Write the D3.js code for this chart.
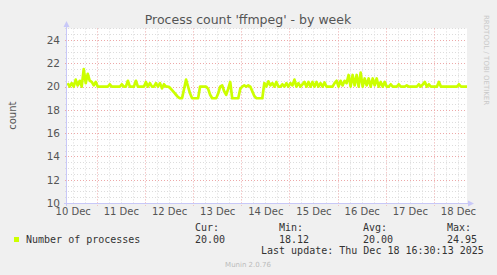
<!DOCTYPE html>
<html>
<head>
<meta charset="utf-8">
<script src="https://cdn.jsdelivr.net/npm/d3@7/dist/d3.min.js"></script>
<style>
  html, body { margin: 0; padding: 0; background: #F0F0F0; }
  svg { display: block; }
</style>
</head>
<body>
<script>
// ---------- data ----------
const title = "Process count 'ffmpeg' - by week";
const yLabel = "count";
const seriesName = "Number of processes";
// hourly samples, first at 10 Dec 09:30 UTC, last at 18 Dec 16:30 UTC
const sampleStart = "2025-12-10T09:30:00Z";
const values = [
  20.3, 20.0, 20.3, 20.0, 20.6, 20.1, 20.5, 20.0, 21.5, 20.3,
  21.1, 20.5, 20.4, 20.1, 20.4, 20.0, 20.0, 20.0, 20.0, 20.0,
  20.0, 20.2, 20.0, 20.0, 20.0, 20.0, 20.0, 20.2, 20.0, 20.0,
  20.5, 20.0, 20.0, 20.0, 20.5, 20.0, 20.0, 20.0, 20.0, 20.4,
  20.0, 20.3, 20.0, 20.0, 20.3, 20.0, 20.3, 19.85, 20.2, 20.0,
  20.0, 19.9, 19.7, 19.5, 19.3, 19.1, 19.0, 19.0, 19.8, 20.6,
  20.0, 19.4, 19.0, 19.0, 19.0, 19.0, 20.0, 20.0, 20.0, 20.0,
  19.8, 19.3, 19.0, 19.0, 19.0, 19.4, 20.0, 20.1, 19.6, 19.3,
  19.8, 20.4, 19.0, 19.0, 19.0, 19.0, 19.8, 20.0, 20.1, 20.0,
  20.1, 20.0, 19.6, 19.2, 19.0, 19.0, 19.0, 19.0, 20.3, 20.0,
  20.45, 20.1, 20.3, 20.0, 20.4, 20.0, 20.0, 20.2, 20.0, 20.3,
  20.0, 20.3, 20.1, 20.6, 20.0, 20.3, 20.0, 20.2, 20.4, 20.0,
  20.4, 20.0, 20.4, 20.0, 20.4, 20.0, 20.3, 20.0, 20.35, 20.0,
  20.0, 20.0, 20.0, 20.3, 20.5, 20.0, 20.5, 20.1, 20.5, 20.3,
  21.0, 20.0, 21.0, 20.1, 21.0, 20.0, 21.2, 20.0, 20.7, 20.1,
  20.7, 20.0, 20.7, 20.1, 20.7, 20.0, 20.4, 20.0, 20.4, 20.0,
  20.0, 20.2, 20.0, 20.0, 20.0, 20.2, 20.0, 20.0, 20.0, 20.1,
  20.0, 20.0, 20.0, 20.0, 20.0, 20.2, 20.0, 20.2, 20.4, 20.0,
  20.2, 20.0, 20.0, 20.0, 20.0, 20.4, 20.0, 20.0, 20.0, 20.0,
  20.0, 20.0, 20.0, 20.0, 20.0, 20.2, 20.0, 20.0, 20.0, 20.0
];
const yTicks = [10, 12, 14, 16, 18, 20, 22, 24];
const xTickLabels = ["10 Dec", "11 Dec", "12 Dec", "13 Dec", "14 Dec", "15 Dec", "16 Dec", "17 Dec", "18 Dec"];
const xTickDates = ["2025-12-10T12:00:00Z", "2025-12-11T12:00:00Z", "2025-12-12T12:00:00Z", "2025-12-13T12:00:00Z",
                    "2025-12-14T12:00:00Z", "2025-12-15T12:00:00Z", "2025-12-16T12:00:00Z", "2025-12-17T12:00:00Z",
                    "2025-12-18T12:00:00Z"];
const statLabels = ["Cur:", "Min:", "Avg:", "Max:"];
const statValues = ["20.00", "18.12", "20.00", "24.95"];
const lastUpdate = "Last update: Thu Dec 18 16:30:13 2025";
const footer = "Munin 2.0.76";
const sideText = "RRDTOOL / TOBI OETIKER";
const timeStart = "2025-12-10T09:10:00Z";
const timeEnd = "2025-12-18T16:30:00Z";

// ---------- layout ----------
const W = 497, H = 275;
const plot = { left: 67, right: 467, top: 28.4, bottom: 203 };
const lineColor = "#CCFF00";
const axisColor = "#C8C8F8";

const svg = d3.select("body").append("svg").attr("width", W).attr("height", H);
svg.append("rect").attr("width", W).attr("height", H).attr("fill", "#F0F0F0");

const x = d3.scaleUtc().domain([new Date(timeStart), new Date(timeEnd)]).range([plot.left, plot.right]);
const y = d3.scaleLinear().domain([10, 25]).range([plot.bottom, plot.top]);

svg.append("rect").attr("x", plot.left).attr("y", plot.top)
  .attr("width", plot.right - plot.left).attr("height", plot.bottom - plot.top).attr("fill", "#FFFFFF");

// minor grid
const g = svg.append("g");
const minorY = d3.range(10.5, 25.01, 0.5).filter(v => v % 2 !== 0);
g.selectAll(".my").data(minorY).join("line")
  .attr("x1", plot.left - 2).attr("x2", plot.right)
  .attr("y1", d => Math.round(y(d)) + 0.5).attr("y2", d => Math.round(y(d)) + 0.5)
  .attr("stroke", "#DCDCDC").attr("stroke-width", 1).attr("stroke-dasharray", "1,2");
const minorX = d3.utcHour.every(6).range(new Date(timeStart), new Date(timeEnd)).filter(d => d.getUTCHours() !== 0);
g.selectAll(".mx").data(minorX).join("line")
  .attr("x1", d => Math.round(x(d)) + 0.5).attr("x2", d => Math.round(x(d)) + 0.5)
  .attr("y1", plot.top).attr("y2", plot.bottom + 2)
  .attr("stroke", "#DCDCDC").attr("stroke-width", 1).attr("stroke-dasharray", "1,2");
// major grid
g.selectAll(".My").data(yTicks.filter(v => v > 10)).join("line")
  .attr("x1", plot.left - 2).attr("x2", plot.right)
  .attr("y1", d => Math.round(y(d)) + 0.5).attr("y2", d => Math.round(y(d)) + 0.5)
  .attr("stroke", "#EDA8A8").attr("stroke-width", 1).attr("stroke-dasharray", "1,2");
const majorX = d3.utcDay.range(new Date(timeStart), new Date(timeEnd));
g.selectAll(".Mx").data(majorX).join("line")
  .attr("x1", d => Math.round(x(d)) + 0.5).attr("x2", d => Math.round(x(d)) + 0.5)
  .attr("y1", plot.top).attr("y2", plot.bottom + 3)
  .attr("stroke", "#EDA8A8").attr("stroke-width", 1).attr("stroke-dasharray", "1,2");

// data line
const t0 = new Date(sampleStart).getTime();
const pts = values.map((v, i) => ({ t: new Date(t0 + i * 3600e3), v }));
svg.append("path").datum(pts)
  .attr("d", d3.line().x(d => x(d.t)).y(d => y(d.v)))
  .attr("fill", "none").attr("stroke", lineColor).attr("stroke-width", 2.7)
  .attr("stroke-linejoin", "round");

// axes lines + arrows
svg.append("line").attr("x1", plot.left - 0.5).attr("x2", plot.left - 0.5)
  .attr("y1", plot.bottom + 3).attr("y2", 25).attr("stroke", axisColor);
svg.append("path").attr("d", `M${plot.left - 3.5},27 L${plot.left + 2.5},27 L${plot.left - 0.5},21 Z`).attr("fill", axisColor);
svg.append("line").attr("x1", plot.left - 3).attr("x2", plot.right + 3)
  .attr("y1", plot.bottom + 0.5).attr("y2", plot.bottom + 0.5).attr("stroke", axisColor);
svg.append("path").attr("d", `M${plot.right + 1},${plot.bottom - 2.5} L${plot.right + 1},${plot.bottom + 3.5} L${plot.right + 7},${plot.bottom + 0.5} Z`).attr("fill", axisColor);

// y axis labels
const yAxis = d3.axisLeft(y).tickValues(yTicks).tickSize(0).tickPadding(7).tickFormat(d3.format("d"));
const ya = svg.append("g").attr("transform", `translate(${plot.left},0)`).call(yAxis);
ya.select(".domain").remove();
ya.selectAll("text").attr("font-family", "DejaVu Sans").attr("font-size", 10.5).attr("fill", "#555");

// x axis labels
const xAxis = d3.axisBottom(x).tickValues(xTickDates.map(d => new Date(d))).tickSize(0).tickPadding(5)
  .tickFormat((d, i) => xTickLabels[i]);
const xa = svg.append("g").attr("transform", `translate(0,${plot.bottom})`).call(xAxis);
xa.select(".domain").remove();
xa.selectAll("text").attr("font-family", "DejaVu Sans").attr("font-size", 10).attr("fill", "#555");

// title
svg.append("text").attr("x", 248).attr("y", 24).attr("text-anchor", "middle")
  .attr("font-family", "DejaVu Sans").attr("font-size", 12.5).attr("fill", "#555").text(title);

// y label
svg.append("text").attr("transform", `translate(16,${(plot.top + plot.bottom) / 2}) rotate(-90)`)
  .attr("text-anchor", "middle").attr("font-family", "DejaVu Sans").attr("font-size", 10).attr("fill", "#555").text(yLabel);

// side text
svg.append("text").attr("transform", `translate(484,15) rotate(90)`)
  .attr("text-anchor", "start").attr("font-family", "DejaVu Sans").attr("font-size", 7).attr("fill", "#C8C8C8").text(sideText);

// legend
const mono = "DejaVu Sans Mono";
svg.append("rect").attr("x", 14).attr("y", 237).attr("width", 5).attr("height", 5).attr("fill", lineColor);
svg.append("text").attr("x", 26).attr("y", 243).attr("font-family", mono).attr("font-size", 10).attr("fill", "#333").text(seriesName);
const statX = [195, 279, 363, 447];
svg.selectAll(".sl").data(statLabels).join("text")
  .attr("x", (d, i) => statX[i]).attr("y", 231).attr("font-family", mono).attr("font-size", 10).attr("fill", "#333").text(d => d);
svg.selectAll(".sv").data(statValues).join("text")
  .attr("x", (d, i) => statX[i]).attr("y", 243).attr("font-family", mono).attr("font-size", 10).attr("fill", "#333").text(d => d);
svg.append("text").attr("x", 261).attr("y", 254).attr("font-family", mono).attr("font-size", 10).attr("fill", "#333").text(lastUpdate);
svg.append("text").attr("x", 248).attr("y", 267).attr("text-anchor", "middle")
  .attr("font-family", "DejaVu Sans").attr("font-size", 7).attr("fill", "#BBBBBB").text(footer);
</script>
</body>
</html>
